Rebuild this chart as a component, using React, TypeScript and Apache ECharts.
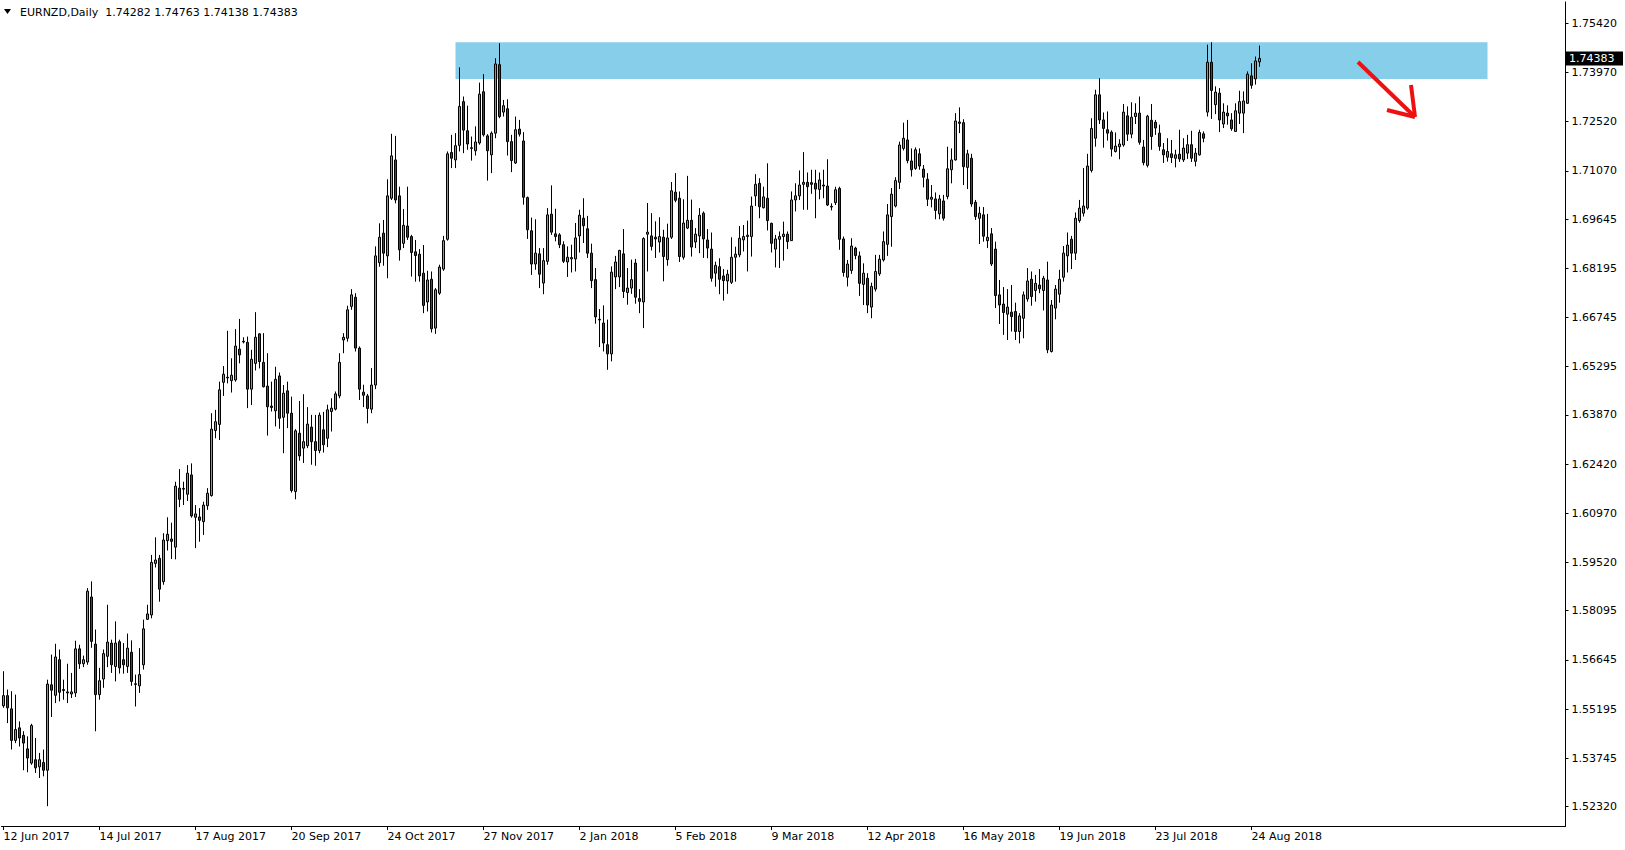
import React, { useEffect, useRef } from "react";
import * as echarts from "echarts";

// Daily EURNZD bars, 12 Jun 2017 .. 28 Aug 2018 (index = trading day)
const opens = [
  1.5529,1.5559,1.5520,1.5427,1.5464,1.5442,1.5402,1.5360,1.5370,1.5349,
  1.5362,1.5339,1.5591,1.5560,1.5665,1.5577,1.5570,1.5564,1.5567,1.5697,
  1.5653,1.5658,1.5850,1.5711,1.5562,1.5608,1.5675,1.5714,1.5645,1.5718,
  1.5665,1.5645,1.5687,1.5594,1.5588,1.5650,1.5784,1.5797,1.5949,1.5964,
  1.5895,1.6016,1.6021,1.5997,1.6171,1.6170,1.6153,1.6210,1.6085,1.6086,
  1.6072,1.6119,1.6149,1.6341,1.6359,1.6483,1.6498,1.6488,1.6490,1.6581,
  1.6604,1.6601,1.6463,1.6539,1.6626,1.6542,1.6472,1.6413,1.6399,1.6502,
  1.6380,1.6458,1.6392,1.6161,1.6333,1.6289,1.6296,1.6351,1.6308,1.6282,
  1.6343,1.6318,1.6397,1.6404,1.6443,1.6608,1.6613,1.6707,1.6734,1.6584,
  1.6454,1.6443,1.6404,1.6475,1.6836,1.6923,1.6856,1.7026,1.7139,1.7033,
  1.6893,1.6944,1.6913,1.6868,1.6861,1.6805,1.6720,1.6787,1.6643,1.6746,
  1.6817,1.6905,1.7161,1.7139,1.7182,1.7311,1.7225,1.7175,1.7166,1.7189,
  1.7340,1.7210,1.7154,1.7218,1.7420,1.7280,1.7290,1.7193,1.7130,1.7230,
  1.7195,1.7028,1.6930,1.6832,1.6862,1.6776,1.6840,1.6979,1.6921,1.6918,
  1.6889,1.6838,1.6847,1.6847,1.6915,1.6967,1.6936,1.6864,1.6786,1.6669,
  1.6658,1.6594,1.6567,1.6794,1.6794,1.6862,1.6748,1.6761,1.6835,1.6730,
  1.6720,1.6920,1.6915,1.6911,1.6897,1.6911,1.6845,1.6911,1.7044,1.7026,
  1.6852,1.6938,1.6961,1.6897,1.6915,1.6982,1.6903,1.6876,1.6805,1.6824,
  1.6797,1.6782,1.6778,1.6852,1.6859,1.6903,1.6913,1.6913,1.7033,1.7070,
  1.6998,1.7026,1.6952,1.6876,1.6905,1.6913,1.6920,1.6901,1.7021,1.7033,
  1.7067,1.7073,1.7072,1.7070,1.7052,1.7065,1.7062,1.7002,1.7013,1.7055,
  1.6906,1.6793,1.6813,1.6879,1.6856,1.6772,1.6790,1.6705,1.6758,1.6803,
  1.6844,1.6890,1.6972,1.7003,1.7073,1.7173,1.7198,1.7136,1.7114,1.7157,
  1.7112,1.7082,1.7023,1.7024,1.6980,1.7018,1.7031,1.7110,1.7139,1.7251,
  1.7249,1.7117,1.7144,1.7014,1.6967,1.6977,1.6901,1.6921,1.6876,1.6741,
  1.6714,1.6684,1.6690,1.6692,1.6633,1.6672,1.6729,1.6787,1.6754,1.6770,
  1.6754,1.6785,1.6574,1.6702,1.6743,1.6793,1.6856,1.6905,1.6864,1.6960,
  1.6982,1.6997,1.7108,1.7203,1.7331,1.7257,1.7228,1.7221,1.7164,1.7178,
  1.7183,1.7269,1.7215,1.7267,1.7277,1.7177,1.7123,1.7256,1.7250,1.7218,
  1.7169,1.7147,1.7157,1.7144,1.7156,1.7139,1.7159,1.7184,1.7135,1.7154,
  1.7216,1.7280,1.7427,1.7302,1.7336,1.7245,1.7277,1.7257,1.7223,1.7277,
  1.7277,1.7306,1.7387,1.7378,1.74282,
];

const highs = [
  1.5631,1.5577,1.5572,1.5562,1.5483,1.5454,1.5439,1.5476,1.5434,1.5390,
  1.5400,1.5606,1.5680,1.5712,1.5695,1.5606,1.5653,1.5626,1.5721,1.5709,
  1.5677,1.5876,1.5896,1.5754,1.5641,1.5695,1.5827,1.5724,1.5778,1.5724,
  1.5714,1.5742,1.5722,1.5621,1.5699,1.5783,1.5827,1.5974,1.6026,1.5974,
  1.6038,1.6085,1.6069,1.6190,1.6227,1.6190,1.6239,1.6244,1.6121,1.6112,
  1.6131,1.6171,1.6392,1.6402,1.6485,1.6531,1.6635,1.6554,1.6640,1.6670,
  1.6616,1.6618,1.6579,1.6690,1.6628,1.6628,1.6569,1.6485,1.6529,1.6512,
  1.6475,1.6485,1.6441,1.6345,1.6428,1.6448,1.6410,1.6387,1.6387,1.6394,
  1.6396,1.6417,1.6436,1.6456,1.6569,1.6628,1.6709,1.6758,1.6746,1.6589,
  1.6476,1.6449,1.6525,1.6884,1.6952,1.6962,1.7082,1.7216,1.7210,1.7060,
  1.6994,1.7060,1.6918,1.6903,1.6876,1.6888,1.6812,1.6810,1.6761,1.6830,
  1.6915,1.7164,1.7213,1.7218,1.7412,1.7326,1.7299,1.7208,1.7238,1.7367,
  1.7392,1.7215,1.7223,1.7439,1.7483,1.7316,1.7318,1.7213,1.7267,1.7257,
  1.7221,1.7031,1.6969,1.6964,1.6879,1.6879,1.6997,1.7064,1.6995,1.6923,
  1.6899,1.6884,1.6889,1.6953,1.6992,1.7026,1.6974,1.6892,1.6820,1.6699,
  1.6710,1.6668,1.6825,1.6856,1.6874,1.6935,1.6820,1.6845,1.6847,1.6758,
  1.6911,1.7012,1.6982,1.6958,1.6970,1.6933,1.6951,1.7074,1.7100,1.7046,
  1.7023,1.7092,1.7022,1.6938,1.6997,1.6987,1.6935,1.6925,1.6839,1.6849,
  1.6817,1.6815,1.6911,1.6883,1.6944,1.6947,1.6960,1.7031,1.7097,1.7085,
  1.7060,1.7129,1.6954,1.6918,1.6928,1.6957,1.6928,1.7046,1.7070,1.7108,
  1.7162,1.7102,1.7110,1.7110,1.7102,1.7110,1.7141,1.7011,1.7060,1.7060,
  1.6913,1.6844,1.6908,1.6883,1.6869,1.6834,1.6805,1.6777,1.6859,1.6859,
  1.6928,1.7009,1.7056,1.7088,1.7193,1.7249,1.7257,1.7173,1.7176,1.7173,
  1.7124,1.7100,1.7065,1.7043,1.7036,1.7036,1.7178,1.7173,1.7277,1.7294,
  1.7259,1.7169,1.7157,1.7021,1.7001,1.7000,1.6980,1.6938,1.6898,1.6785,
  1.6764,1.6758,1.6770,1.6718,1.6687,1.6751,1.6820,1.6810,1.6800,1.6817,
  1.6797,1.6839,1.6726,1.6770,1.6815,1.6885,1.6925,1.6915,1.6984,1.7021,
  1.7115,1.7157,1.7262,1.7346,1.7380,1.7279,1.7282,1.7226,1.7220,1.7200,
  1.7304,1.7297,1.7309,1.7306,1.7326,1.7198,1.7272,1.7304,1.7257,1.7243,
  1.7189,1.7203,1.7198,1.7169,1.7228,1.7203,1.7213,1.7225,1.7174,1.7228,
  1.7223,1.7479,1.7486,1.7356,1.7351,1.7306,1.7300,1.7277,1.7306,1.7343,
  1.7341,1.7400,1.7424,1.7444,1.74763,
];

const lows = [
  1.5523,1.5478,1.5400,1.5419,1.5409,1.5339,1.5333,1.5355,1.5331,1.5316,
  1.5321,1.5233,1.5496,1.5537,1.5542,1.5547,1.5537,1.5552,1.5555,1.5638,
  1.5643,1.5650,1.5700,1.5454,1.5547,1.5582,1.5643,1.5626,1.5601,1.5624,
  1.5624,1.5626,1.5588,1.5527,1.5567,1.5636,1.5782,1.5787,1.5937,1.5836,
  1.5886,1.5987,1.5962,1.5961,1.6115,1.6121,1.6133,1.6084,1.5994,1.6013,
  1.6033,1.6107,1.6146,1.6318,1.6313,1.6443,1.6480,1.6453,1.6485,1.6539,
  1.6598,1.6407,1.6416,1.6518,1.6524,1.6468,1.6326,1.6397,1.6353,1.6346,
  1.6274,1.6348,1.6158,1.6138,1.6252,1.6245,1.6289,1.6240,1.6237,1.6274,
  1.6276,1.6292,1.6338,1.6400,1.6436,1.6569,1.6603,1.6697,1.6574,1.6431,
  1.6410,1.6362,1.6392,1.6463,1.6824,1.6827,1.6790,1.7021,1.7011,1.6842,
  1.6879,1.6903,1.6795,1.6780,1.6780,1.6687,1.6692,1.6630,1.6626,1.6741,
  1.6812,1.6901,1.7115,1.7115,1.7164,1.7159,1.7169,1.7137,1.7152,1.7184,
  1.7208,1.7078,1.7100,1.7203,1.7262,1.7267,1.7152,1.7103,1.7127,1.7208,
  1.7007,1.6906,1.6800,1.6815,1.6761,1.6743,1.6830,1.6918,1.6899,1.6879,
  1.6835,1.6794,1.6807,1.6810,1.6866,1.6894,1.6850,1.6761,1.6656,1.6587,
  1.6574,1.6520,1.6545,1.6758,1.6764,1.6732,1.6712,1.6744,1.6715,1.6687,
  1.6643,1.6810,1.6872,1.6850,1.6866,1.6781,1.6827,1.6906,1.7014,1.6838,
  1.6845,1.6935,1.6854,1.6879,1.6864,1.6850,1.6849,1.6780,1.6765,1.6743,
  1.6724,1.6744,1.6773,1.6780,1.6852,1.6869,1.6810,1.6854,1.7003,1.6967,
  1.6996,1.6931,1.6866,1.6822,1.6820,1.6842,1.6876,1.6900,1.6987,1.7021,
  1.6992,1.6992,1.7039,1.6967,1.7023,1.7026,1.7003,1.6990,1.7006,1.6874,
  1.6795,1.6766,1.6803,1.6846,1.6738,1.6711,1.6687,1.6672,1.6751,1.6797,
  1.6839,1.6856,1.6883,1.6999,1.7053,1.7167,1.7129,1.7090,1.7110,1.7110,
  1.7058,1.7003,1.6999,1.6964,1.6964,1.6960,1.7023,1.7070,1.7137,1.7218,
  1.7065,1.7053,1.7001,1.6962,1.6891,1.6898,1.6879,1.6826,1.6702,1.6655,
  1.6623,1.6608,1.6633,1.6608,1.6598,1.6613,1.6721,1.6709,1.6721,1.6746,
  1.6695,1.6569,1.6571,1.6669,1.6718,1.6780,1.6807,1.6817,1.6844,1.6954,
  1.6972,1.6992,1.7102,1.7178,1.7245,1.7175,1.7196,1.7149,1.7161,1.7141,
  1.7178,1.7195,1.7203,1.7245,1.7184,1.7123,1.7117,1.7169,1.7213,1.7166,
  1.7130,1.7134,1.7130,1.7117,1.7133,1.7133,1.7142,1.7133,1.7120,1.7152,
  1.7191,1.7267,1.7260,1.7274,1.7221,1.7233,1.7243,1.7225,1.7223,1.7245,
  1.7218,1.7304,1.7349,1.7361,1.74138,
];

const closes = [
  1.5559,1.5523,1.5427,1.5459,1.5434,1.5419,1.5375,1.5471,1.5346,1.5370,
  1.5339,1.5593,1.5575,1.5673,1.5569,1.5574,1.5567,1.5570,1.5697,1.5653,
  1.5665,1.5867,1.5719,1.5562,1.5603,1.5683,1.5717,1.5650,1.5714,1.5641,
  1.5650,1.5699,1.5601,1.5592,1.5621,1.5756,1.5800,1.5952,1.5959,1.5873,
  1.6018,1.6035,1.6014,1.6177,1.6138,1.6168,1.6215,1.6089,1.6095,1.6076,
  1.6121,1.6156,1.6345,1.6367,1.6461,1.6507,1.6496,1.6504,1.6590,1.6564,
  1.6602,1.6463,1.6551,1.6616,1.6544,1.6470,1.6411,1.6409,1.6492,1.6377,
  1.6451,1.6392,1.6164,1.6340,1.6266,1.6308,1.6360,1.6308,1.6282,1.6386,
  1.6299,1.6402,1.6407,1.6449,1.6542,1.6616,1.6697,1.6741,1.6584,1.6463,
  1.6445,1.6406,1.6475,1.6856,1.6911,1.6864,1.7033,1.7151,1.7021,1.6874,
  1.6946,1.6911,1.6866,1.6857,1.6797,1.6710,1.6785,1.6641,1.6756,1.6823,
  1.6901,1.7157,1.7144,1.7181,1.7297,1.7227,1.7186,1.7173,1.7192,1.7333,
  1.7213,1.7166,1.7218,1.7422,1.7267,1.7299,1.7193,1.7137,1.7228,1.7215,
  1.7029,1.6933,1.6832,1.6864,1.6802,1.6842,1.6977,1.6926,1.6913,1.6889,
  1.6840,1.6852,1.6851,1.6909,1.6976,1.6945,1.6864,1.6783,1.6676,1.6667,
  1.6599,1.6567,1.6808,1.6838,1.6872,1.6751,1.6761,1.6786,1.6734,1.6722,
  1.6907,1.6926,1.6884,1.6906,1.6913,1.6854,1.6909,1.7048,1.7020,1.6854,
  1.6953,1.6961,1.6882,1.6920,1.6976,1.6906,1.6879,1.6790,1.6828,1.6787,
  1.6783,1.6802,1.6852,1.6861,1.6908,1.6913,1.6917,1.7003,1.7067,1.7001,
  1.7030,1.6960,1.6893,1.6906,1.6913,1.6920,1.6898,1.7021,1.7033,1.7065,
  1.7073,1.7060,1.7067,1.7053,1.7080,1.7062,1.7006,1.7000,1.7051,1.6905,
  1.6807,1.6832,1.6885,1.6857,1.6775,1.6805,1.6711,1.6766,1.6810,1.6846,
  1.6898,1.6977,1.7038,1.7078,1.7183,1.7203,1.7137,1.7110,1.7169,1.7121,
  1.7088,1.7023,1.7029,1.6990,1.7024,1.6967,1.7113,1.7139,1.7254,1.7247,
  1.7119,1.7157,1.7009,1.6972,1.6982,1.6914,1.6911,1.6832,1.6739,1.6711,
  1.6689,1.6705,1.6677,1.6633,1.6679,1.6741,1.6782,1.6736,1.6775,1.6759,
  1.6790,1.6579,1.6711,1.6758,1.6787,1.6864,1.6888,1.6864,1.6967,1.6997,
  1.7003,1.7121,1.7232,1.7331,1.7257,1.7232,1.7218,1.7171,1.7180,1.7186,
  1.7280,1.7215,1.7265,1.7277,1.7191,1.7131,1.7268,1.7208,1.7233,1.7179,
  1.7154,1.7164,1.7146,1.7154,1.7142,1.7174,1.7184,1.7144,1.7159,1.7220,
  1.7203,1.7427,1.7344,1.7339,1.7257,1.7280,1.7269,1.7231,1.7284,1.7311,
  1.7313,1.7392,1.7359,1.7431,1.74383,
];

// Date labels, one every 24 bars from bar 0
const dateLabels = [
  "12 Jun 2017", "14 Jul 2017", "17 Aug 2017", "20 Sep 2017", "24 Oct 2017",
  "27 Nov 2017", "2 Jan 2018", "5 Feb 2018", "9 Mar 2018", "12 Apr 2018",
  "16 May 2018", "19 Jun 2018", "23 Jul 2018", "24 Aug 2018",
];
const labelStep = 24;

// Price scale labels
const priceTicks = [
  1.5232, 1.53745, 1.55195, 1.56645, 1.58095, 1.5952, 1.6097, 1.6242, 1.6387,
  1.65295, 1.66745, 1.68195, 1.69645, 1.7107, 1.7252, 1.7397, 1.7542,
];

// Resistance zone (bar index range and price range)
const zoneBars = [113, 371];
const zonePrices = [1.7486, 1.7378];

const symbolTitle = "EURNZD,Daily";
const headerValues = ["1.74282", "1.74763", "1.74138", "1.74383"];

const UP = "#5cb85c";
const DOWN = "#9e2424";
const FONT = "DejaVu Sans";

export default function App() {
  const ref = useRef<HTMLDivElement>(null);

  useEffect(() => {
    if (!ref.current) return;
    const chart = echarts.init(ref.current, null, { renderer: "svg" });
    const candles = opens.map((o, i) => [i, o, closes[i], lows[i], highs[i]]);
    const labelBars = dateLabels.map((_, k) => k * labelStep);

    chart.setOption({
      animation: false,
      backgroundColor: "#ffffff",
      grid: { left: 1.5, right: 59.5, top: 2, bottom: 24, containLabel: false },
      xAxis: {
        type: "value",
        min: -0.5,
        max: 390.5,
        axisLine: { show: true, onZero: false, lineStyle: { color: "#000", width: 1 } },
        axisTick: { show: true, customValues: labelBars, length: 4, lineStyle: { color: "#000" } },
        axisLabel: {
          customValues: labelBars,
          formatter: (v: number) => dateLabels[Math.round(v / labelStep)] ?? "",
          align: "left",
          color: "#000",
          fontFamily: FONT,
          fontSize: 11,
          margin: 5,
          hideOverlap: false,
        },
        splitLine: { show: false },
      },
      yAxis: {
        type: "value",
        position: "right",
        min: 1.51745,
        max: 1.76048,
        scale: true,
        axisLine: { show: true, onZero: false, lineStyle: { color: "#000", width: 1 } },
        axisTick: { show: true, customValues: priceTicks, length: 3, lineStyle: { color: "#000" } },
        axisLabel: {
          customValues: priceTicks,
          formatter: (v: number) => v.toFixed(5),
          color: "#000",
          fontFamily: FONT,
          fontSize: 11,
          margin: 6,
          hideOverlap: false,
        },
        splitLine: { show: false },
      },
      series: [
        {
          type: "candlestick",
          data: candles,
          barWidth: 2,
          z: 3,
          itemStyle: {
            color: UP,
            color0: DOWN,
            borderColor: "#000",
            borderColor0: "#000",
            borderColorDoji: "#000",
            borderWidth: 1,
          },
          markArea: {
            silent: true,
            z: 1,
            itemStyle: { color: "#87ceeb", opacity: 1 },
            data: [[
              { xAxis: zoneBars[0], yAxis: zonePrices[0] },
              { xAxis: zoneBars[1], yAxis: zonePrices[1] },
            ]],
          },
        },
      ],
    });

    const lastClose = closes[closes.length - 1];
    const tagY = chart.convertToPixel({ yAxisIndex: 0 }, lastClose) as number;

    chart.setOption({
      graphic: [
        {
          type: "polygon",
          z: 100,
          shape: { points: [[4, 9], [11, 9], [7.5, 14]] },
          style: { fill: "#000" },
        },
        {
          type: "text",
          z: 100,
          x: 20,
          y: 12,
          style: {
            text: symbolTitle + "  " + headerValues.join(" "),
            fill: "#000",
            font: `11px "${FONT}"`,
            verticalAlign: "middle",
          },
        },
        {
          type: "rect",
          z: 100,
          shape: { x: 1566, y: tagY - 7, width: 57, height: 14 },
          style: { fill: "#000" },
        },
        {
          type: "text",
          z: 101,
          x: 1569,
          y: tagY,
          style: {
            text: lastClose.toFixed(5),
            fill: "#fff",
            font: `11px "${FONT}"`,
            verticalAlign: "middle",
          },
        },
        {
          type: "line",
          z: 100,
          shape: { x1: 1358, y1: 62, x2: 1415, y2: 117 },
          style: { stroke: "#ee1111", lineWidth: 4 },
        },
        {
          type: "line",
          z: 100,
          shape: { x1: 1411, y1: 85, x2: 1415, y2: 117 },
          style: { stroke: "#ee1111", lineWidth: 4 },
        },
        {
          type: "line",
          z: 100,
          shape: { x1: 1387, y1: 110, x2: 1415, y2: 117 },
          style: { stroke: "#ee1111", lineWidth: 4 },
        },
      ],
    });

    return () => chart.dispose();
  }, []);

  return (
    <div
      ref={ref}
      style={{ position: "fixed", left: 0, top: 0, width: 1625, height: 850, background: "#fff" }}
    />
  );
}
